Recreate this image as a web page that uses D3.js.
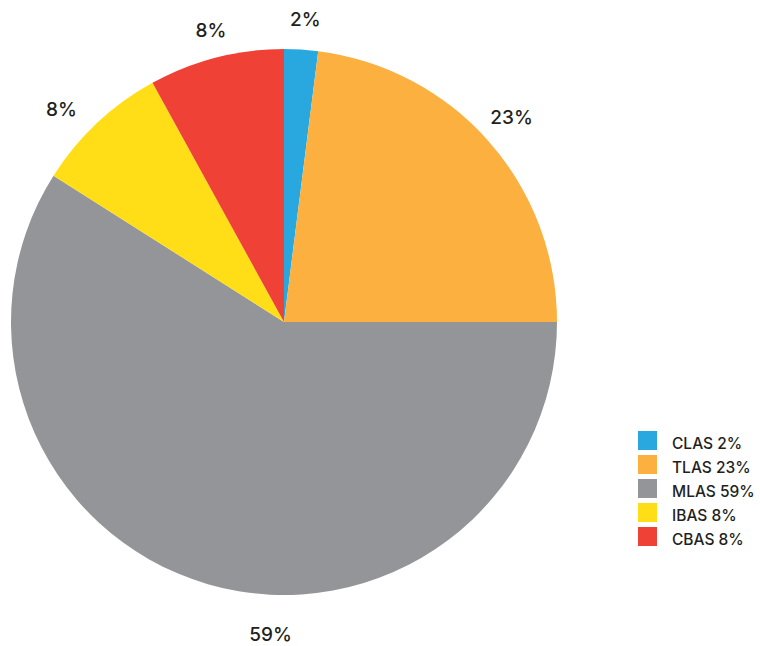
<!DOCTYPE html>
<html>
<head>
<meta charset="utf-8">
<script src="https://cdn.jsdelivr.net/npm/d3@7"></script>
<style>
  html, body { margin: 0; padding: 0; background: #fff; }
  svg { display: block; font-family: Inter, "Noto Sans", sans-serif; }
</style>
</head>
<body>
<svg id="chart" width="760" height="646"></svg>
<script>
// Share of each arch type
const categories = ["CLAS", "TLAS", "MLAS", "IBAS", "CBAS"];
const values = [2, 23, 59, 8, 8];
const colors = ["#29a8e0", "#fbb040", "#939598", "#ffde17", "#ef4136"];
// Small hand adjustments so the outer labels sit clear of their neighbours
const labelNudge = [[2, 3], [-2, -2], [72, 19], [-13, 11], [3, 5]];

const svg = d3.select("#chart");
const cx = 284, cy = 322, radius = 273, labelRadius = 306;

const data = categories.map((c, i) => ({ name: c, value: values[i], color: colors[i], nudge: labelNudge[i] }));

const pie = d3.pie().value(d => d.value).sort(null);
const arc = d3.arc().innerRadius(0).outerRadius(radius);
const labelArc = d3.arc().innerRadius(labelRadius).outerRadius(labelRadius);

const g = svg.append("g").attr("transform", `translate(${cx},${cy})`);
const arcs = pie(data);

g.selectAll("path.slice")
  .data(arcs)
  .join("path")
  .attr("class", "slice")
  .attr("d", arc)
  .attr("fill", d => d.data.color);

g.selectAll("text.pct")
  .data(arcs)
  .join("text")
  .attr("class", "pct")
  .attr("transform", d => {
    const [x, y] = labelArc.centroid(d);
    return `translate(${x + d.data.nudge[0]},${y + d.data.nudge[1]})`;
  })
  .attr("text-anchor", "middle")
  .attr("dominant-baseline", "central")
  .attr("font-size", 19)
  .attr("font-weight", 500)
  .attr("fill", "#231f20")
  .text(d => d.data.value + "%");

// Legend
const legendY = d3.scaleBand().domain(categories).range([431, 551]).paddingInner(0);
const legend = svg.append("g");
const items = legend.selectAll("g.item")
  .data(data)
  .join("g")
  .attr("class", "item")
  .attr("transform", d => `translate(638,${legendY(d.name)})`);

items.append("rect")
  .attr("width", 19)
  .attr("height", 19)
  .attr("fill", d => d.color);

items.append("text")
  .attr("x", 34)
  .attr("y", 18)
  .attr("font-size", 15.5)
  .attr("font-weight", 500)
  .attr("fill", "#231f20")
  .text(d => `${d.name} ${d.value}%`);
</script>
</body>
</html>
